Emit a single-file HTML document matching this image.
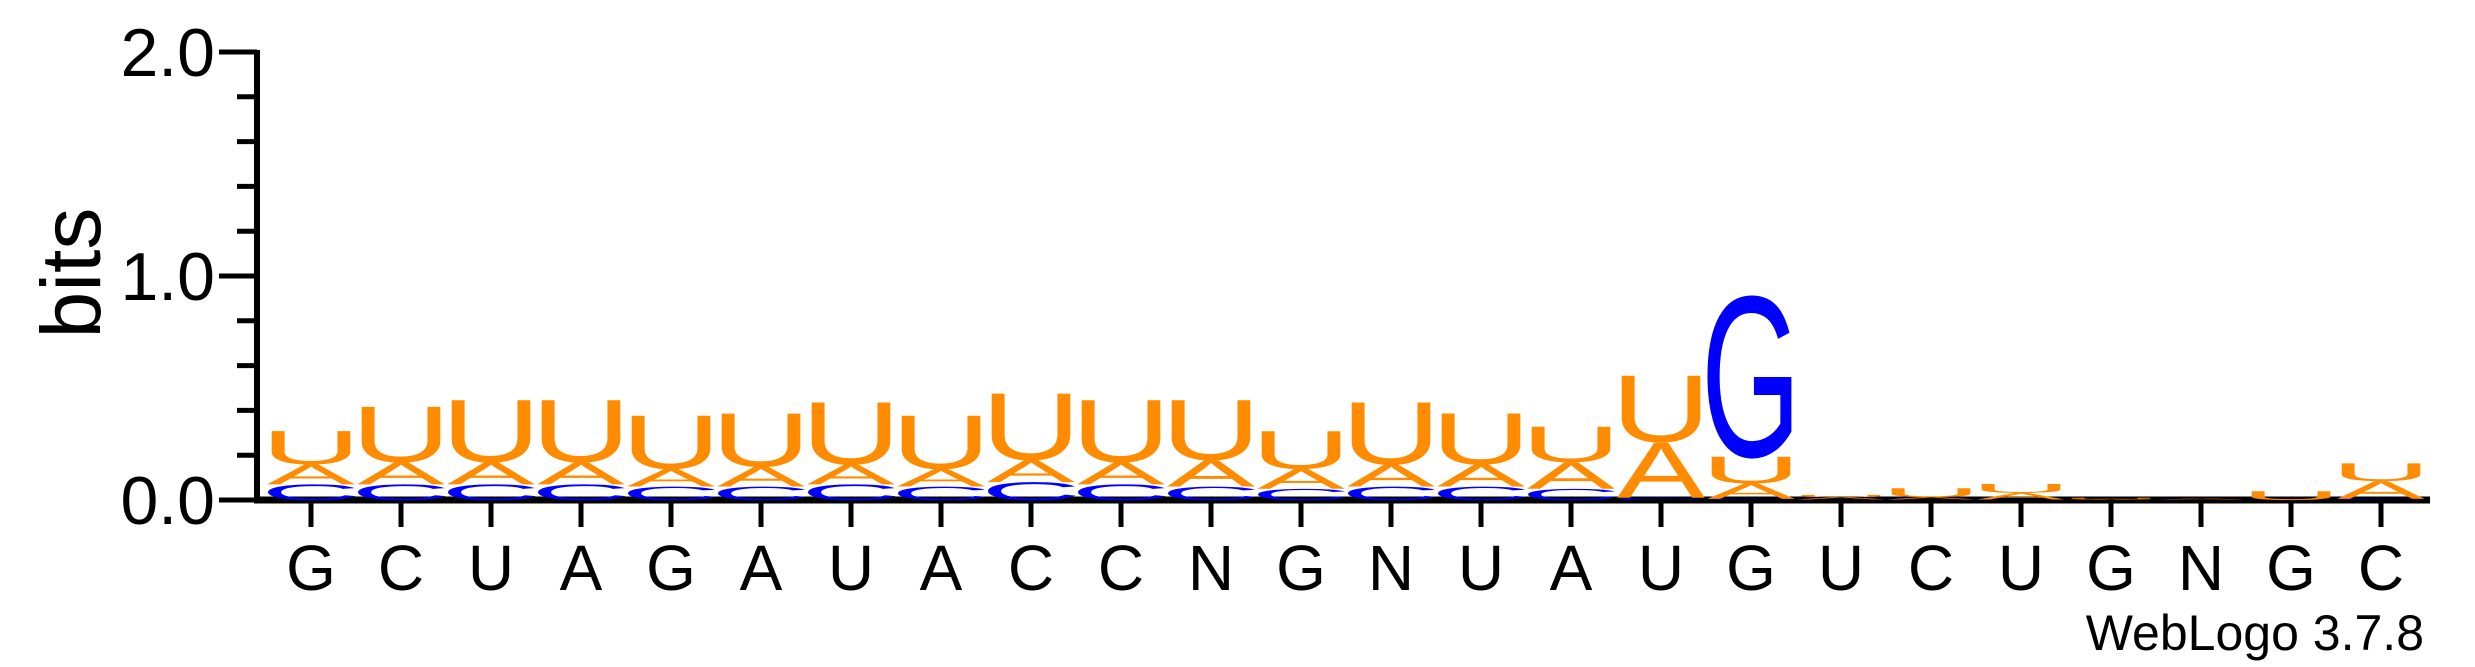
<!DOCTYPE html>
<html><head><meta charset="utf-8"><style>
html,body{margin:0;padding:0;background:#fff;}
svg{display:block;font-family:"Liberation Sans",Arial,sans-serif;}
</style></head><body>
<svg id="chart" width="2475" height="667" viewBox="0 0 2475 667" xmlns="http://www.w3.org/2000/svg">
<g id="axes"></g>
<g id="stacks"></g>
<text x="0" y="0" font-size="84" transform="translate(100,273) rotate(-90)" text-anchor="middle">bits</text>
<text x="2424" y="650" font-size="50" text-anchor="end">WebLogo 3.7.8</text>
</svg>
<script>
const positions = ["G","C","U","A","G","A","U","A","C","C","N","G","N","U","A","U","G","U","C","U","G","N","G","C"];
const bitsC = [0.07,0.07,0.07,0.07,0.06,0.06,0.07,0.06,0.08,0.07,0.06,0.05,0.06,0.06,0.05,0.01,0.005,0.003,0.003,0.002,0,0.002,0,0.005];
const bitsA = [0.09,0.10,0.10,0.10,0.08,0.09,0.09,0.08,0.10,0.10,0.12,0.09,0.10,0.10,0.12,0.25,0.07,0.01,0.01,0.03,0.005,0.005,0,0.08];
const bitsU = [0.15,0.25,0.28,0.28,0.24,0.24,0.28,0.24,0.30,0.28,0.27,0.17,0.28,0.23,0.16,0.30,0.12,0.01,0.04,0.04,0.005,0,0.04,0.08];
const bitsG = [0,0,0,0,0,0,0,0,0,0,0,0,0,0,0,0,0.72,0,0,0,0,0,0,0];
const yTicks = [0,1,2];
const yTickLabels = ["0.0","1.0","2.0"];

const NS="http://www.w3.org/2000/svg";
const x0=311, dx=90, colW=90, base=500, ppb=224, axisX=257;
const xPos=i=>x0+i*dx;
const yPos=v=>base-v*ppb;
const colors={A:"#ff8c00",U:"#ff8c00",C:"#0000ff",G:"#0000ff"};
function mk(tag,attrs){const e=document.createElementNS(NS,tag);for(const k in attrs)e.setAttribute(k,attrs[k]);return e;}
const axes=document.getElementById('axes'), stacks=document.getElementById('stacks');

let l=mk('line',{x1:axisX,y1:yPos(2)-2,x2:axisX,y2:base+3,stroke:'#000','stroke-width':6});


axes.appendChild(l);
l=mk('line',{x1:axisX-3,y1:base,x2:2430,y2:base,stroke:'#000','stroke-width':7});


axes.appendChild(l);
for(let k=0;k<=10;k++){
  const v=k*0.2, major=(k%5===0);
  const t=mk('line',{x1:major?axisX-38:axisX-20,y1:yPos(v),x2:axisX,y2:yPos(v),stroke:'#000','stroke-width':5});
  
  
  axes.appendChild(t);
}
yTicks.forEach((v,i)=>{
  const t=mk('text',{x:axisX-42,y:yPos(v)+24,'font-size':68,'text-anchor':'end'});
  t.textContent=yTickLabels[i];
  
  
  axes.appendChild(t);
});
positions.forEach((p,i)=>{
  const t=mk('line',{x1:xPos(i),y1:base,x2:xPos(i),y2:base+27,stroke:'#000','stroke-width':5});
  
  
  axes.appendChild(t);
  const lab=mk('text',{x:xPos(i),y:590,'font-size':64,'text-anchor':'middle'});
  lab.textContent=p;
  
  
  axes.appendChild(lab);
});
positions.forEach((p,i)=>{
  const items=[['C',bitsC[i]],['A',bitsA[i]],['U',bitsU[i]],['G',bitsG[i]]].filter(d=>d[1]>0);
  items.sort((a,b)=>a[1]-b[1]);
  let acc=0;
  const g=mk('g',{});
  
  
  items.forEach(([ch,h])=>{
    const bottom=yPos(acc), hp=h*ppb;
    const wide = (ch==='A') ? colW-2 : colW+10;
    const t=mk('text',{x:0,y:0,'font-size':100,fill:colors[ch],
      textLength:wide,lengthAdjust:'spacingAndGlyphs',
      transform:`translate(${xPos(i)-wide/2},${bottom}) scale(1,${hp/70})`});
    t.textContent=ch;
    
    
    g.appendChild(t);
    acc+=h;
  });
  stacks.appendChild(g);
});
</script>
</body></html>
